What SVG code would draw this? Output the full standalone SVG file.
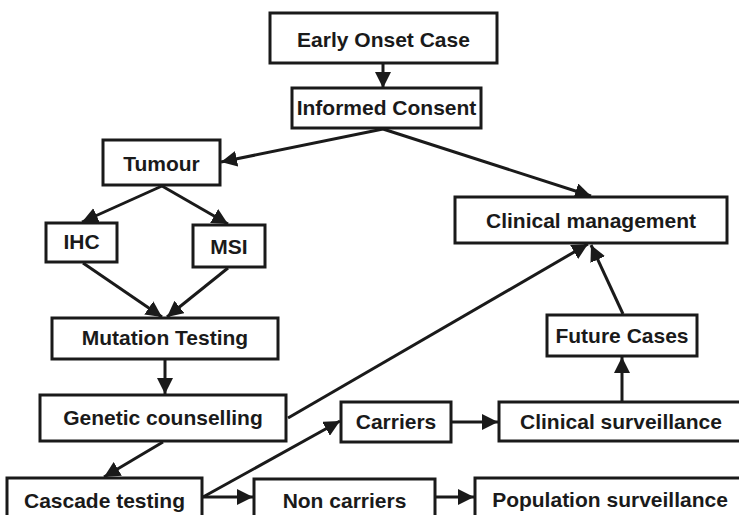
<svg xmlns="http://www.w3.org/2000/svg" width="739" height="515" viewBox="0 0 739 515">
<defs>
<style>
.box{fill:#fff;stroke:#1a1a1a;stroke-width:3}
.lbl{font-family:"Liberation Sans",Arial,sans-serif;font-weight:bold;font-size:21px;fill:#1a1a1a;text-anchor:middle}
.edge{stroke:#1a1a1a;stroke-width:3;fill:none;marker-end:url(#ah)}
</style>
<marker id="ah" markerUnits="userSpaceOnUse" markerWidth="17" markerHeight="16" refX="16" refY="8" orient="auto">
<path d="M0,0 L16,8 L0,16 Z" fill="#1a1a1a"/>
</marker>
</defs>
<rect width="739" height="515" fill="#fff"/>
<g id="connectors">
<line class="edge" x1="383" y1="63" x2="383" y2="88"/>
<line class="edge" x1="383" y1="129" x2="221" y2="162"/>
<line class="edge" x1="383" y1="129" x2="591" y2="196"/>
<line class="edge" x1="162" y1="186" x2="82" y2="222"/>
<line class="edge" x1="162" y1="186" x2="228" y2="224"/>
<line class="edge" x1="83" y1="263" x2="162" y2="317"/>
<line class="edge" x1="228" y1="268" x2="167" y2="317"/>
<line class="edge" x1="165" y1="359" x2="165" y2="394"/>
<line class="edge" x1="163" y1="442" x2="104" y2="477"/>
<line class="edge" x1="288" y1="418" x2="588" y2="244"/>
<line class="edge" x1="623" y1="314" x2="591" y2="245"/>
<line class="edge" x1="622" y1="401" x2="622" y2="357"/>
<line class="edge" x1="203" y1="497" x2="340" y2="421"/>
<line class="edge" x1="203" y1="497" x2="253" y2="497"/>
<line class="edge" x1="452" y1="422" x2="498" y2="422"/>
<line class="edge" x1="436" y1="497" x2="474" y2="497"/>
</g>
<g id="early"><rect class="box" x="270" y="13" width="227" height="50"/><text class="lbl" x="383.5" y="47">Early Onset Case</text></g>
<g id="consent"><rect class="box" x="292" y="88" width="189" height="40"/><text class="lbl" x="386.5" y="115">Informed Consent</text></g>
<g id="tumour"><rect class="box" x="103" y="140" width="117" height="45"/><text class="lbl" x="161.5" y="171">Tumour</text></g>
<g id="ihc"><rect class="box" x="46" y="223" width="71" height="39"/><text class="lbl" x="81.5" y="249">IHC</text></g>
<g id="msi"><rect class="box" x="193" y="225" width="72" height="42"/><text class="lbl" x="229" y="254">MSI</text></g>
<g id="mutation"><rect class="box" x="52" y="318" width="226" height="41"/><text class="lbl" x="165" y="345">Mutation Testing</text></g>
<g id="clinical"><rect class="box" x="455" y="197" width="272" height="46"/><text class="lbl" x="591" y="228">Clinical management</text></g>
<g id="future"><rect class="box" x="547" y="315" width="150" height="41"/><text class="lbl" x="622" y="343">Future Cases</text></g>
<g id="genetic"><rect class="box" x="40" y="395" width="246" height="46"/><text class="lbl" x="163" y="425">Genetic counselling</text></g>
<g id="cascade"><rect class="box" x="7" y="478" width="195" height="50"/><text class="lbl" x="104.5" y="508">Cascade testing</text></g>
<g id="carriers"><rect class="box" x="341" y="402" width="110" height="40"/><text class="lbl" x="396" y="429">Carriers</text></g>
<g id="clinsurv"><rect class="box" x="499" y="402" width="244" height="39"/><text class="lbl" x="621" y="429">Clinical surveillance</text></g>
<g id="noncarriers"><rect class="box" x="254" y="479" width="181" height="50"/><text class="lbl" x="344.5" y="508">Non carriers</text></g>
<g id="popsurv"><rect class="box" x="475" y="478" width="270" height="50"/><text class="lbl" x="610" y="507">Population surveillance</text></g>
</svg>
